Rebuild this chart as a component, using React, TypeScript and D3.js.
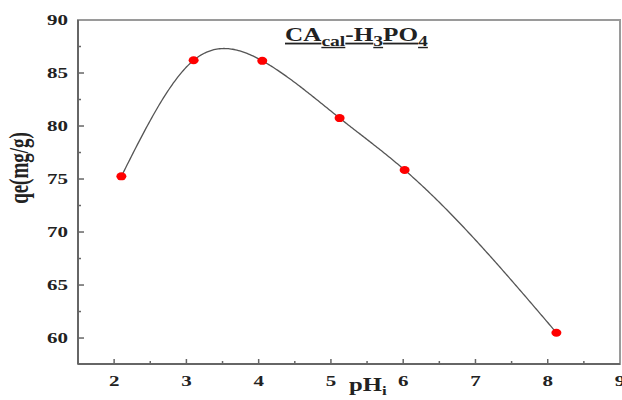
import React from 'react';
import * as d3 from 'd3';

const phValues = [2.1, 3.1, 4.05, 5.12, 6.02, 8.12];
const qeValues = [75.25, 86.2, 86.15, 80.75, 75.85, 60.5];
const xTicks = [2, 3, 4, 5, 6, 7, 8, 9];
const yTicks = [60, 65, 70, 75, 80, 85, 90];

// natural cubic spline y(x), like the smooth line the original plot drew
function splineFn(xs: number[], ys: number[]) {
  const n = xs.length;
  const h = d3.range(n - 1).map((i) => xs[i + 1] - xs[i]);
  const m = new Array(n).fill(0);
  const a: number[] = [], b: number[] = [], c: number[] = [], r: number[] = [];
  for (let i = 1; i < n - 1; i++) {
    a.push(h[i - 1]);
    b.push(2 * (h[i - 1] + h[i]));
    c.push(h[i]);
    r.push(6 * ((ys[i + 1] - ys[i]) / h[i] - (ys[i] - ys[i - 1]) / h[i - 1]));
  }
  const k = r.length;
  for (let i = 1; i < k; i++) {
    const w = a[i] / b[i - 1];
    b[i] -= w * c[i - 1];
    r[i] -= w * r[i - 1];
  }
  const sol = new Array(k).fill(0);
  for (let i = k - 1; i >= 0; i--) sol[i] = (r[i] - (i < k - 1 ? c[i] * sol[i + 1] : 0)) / b[i];
  for (let i = 0; i < k; i++) m[i + 1] = sol[i];
  return (t: number) => {
    let i = Math.min(n - 2, Math.max(0, d3.bisectRight(xs, t) - 1));
    const hi = h[i];
    const A = (xs[i + 1] - t) / hi, B = (t - xs[i]) / hi;
    return A * ys[i] + B * ys[i + 1] + ((A ** 3 - A) * m[i] + (B ** 3 - B) * m[i + 1]) * hi * hi / 6;
  };
}

const App = () => {
  const ref = React.useRef<SVGSVGElement>(null);

  React.useEffect(() => {
    const svg = d3.select(ref.current);
    svg.selectAll('*').remove();

    const margin = { top: 20, right: 2, bottom: 36, left: 78 };
    const W = 622, H = 400;
    const width = W - margin.left - margin.right;
    const height = H - margin.top - margin.bottom;
    const font = '"Liberation Serif", "Times New Roman", serif';
    const sx = 1.4; // the source image is stretched sideways

    const x = d3.scaleLinear().domain([1.5, 9]).range([0, width]);
    const y = d3.scaleLinear().domain([57.55, 90]).range([height, 0]);

    const g = svg.append('g').attr('transform', `translate(${margin.left},${margin.top})`);

    // frame
    g.append('rect')
      .attr('width', width).attr('height', height)
      .attr('fill', 'none').attr('stroke', '#9a9a9a').attr('stroke-width', 2);
    g.append('line').attr('x1', 0).attr('x2', 0).attr('y1', 0).attr('y2', height)
      .attr('stroke', '#666').attr('stroke-width', 2);
    g.append('line').attr('x1', 0).attr('x2', width).attr('y1', height).attr('y2', height)
      .attr('stroke', '#666').attr('stroke-width', 2);

    const xMinor = d3.range(1.5, 9, 0.5).filter((v) => !xTicks.includes(v));
    const yMinor = d3.range(57.5, 90, 2.5).filter((v) => !yTicks.includes(v) && v > 57.6);

    g.selectAll('.xt').data(xTicks.filter((v) => v < 9)).join('line')
      .attr('x1', (d) => x(d)).attr('x2', (d) => x(d))
      .attr('y1', height).attr('y2', height - 5)
      .attr('stroke', '#666').attr('stroke-width', 1.5);
    g.selectAll('.xm').data(xMinor).join('line')
      .attr('x1', (d) => x(d)).attr('x2', (d) => x(d))
      .attr('y1', height).attr('y2', height - 3)
      .attr('stroke', '#666').attr('stroke-width', 1.5);
    g.selectAll('.yt').data(yTicks.filter((v) => v < 90)).join('line')
      .attr('x1', 0).attr('x2', 6)
      .attr('y1', (d) => y(d)).attr('y2', (d) => y(d))
      .attr('stroke', '#666').attr('stroke-width', 1.5);
    g.selectAll('.ym').data(yMinor).join('line')
      .attr('x1', 0).attr('x2', 3)
      .attr('y1', (d) => y(d)).attr('y2', (d) => y(d))
      .attr('stroke', '#666').attr('stroke-width', 1.5);

    // tick labels
    g.selectAll('.xl').data(xTicks).join('text')
      .attr('transform', (d) => `translate(${x(d)},${height + 22}) scale(${sx},1)`)
      .attr('text-anchor', 'middle')
      .attr('font-family', font).attr('font-weight', 'bold').attr('font-size', 15)
      .attr('fill', '#222')
      .text((d) => d);
    g.selectAll('.yl').data(yTicks).join('text')
      .attr('transform', (d) => `translate(-10,${y(d) + 5}) scale(${sx},1)`)
      .attr('text-anchor', 'end')
      .attr('font-family', font).attr('font-weight', 'bold').attr('font-size', 15)
      .attr('fill', '#222')
      .text((d) => d);

    // curve
    const f = splineFn(phValues, qeValues);
    const xs = d3.range(phValues[0], phValues[phValues.length - 1], 0.02).concat(phValues[phValues.length - 1]);
    const line = d3.line<number>()
      .x((d) => x(d))
      .y((d) => y(f(d)));
    g.append('path')
      .attr('d', line(xs))
      .attr('fill', 'none').attr('stroke', '#555').attr('stroke-width', 1.3);

    g.selectAll('.pt').data(qeValues).join('ellipse')
      .attr('cx', (d, i) => x(phValues[i])).attr('cy', (d) => y(d))
      .attr('rx', 5).attr('ry', 4)
      .attr('fill', '#ff0000');

    // title
    const title = svg.append('text')
      .attr('transform', `translate(285,41) scale(${sx},1)`)
      .attr('font-family', font).attr('font-weight', 'bold').attr('font-size', 18)
      .attr('fill', '#222').attr('text-decoration', 'underline');
    title.append('tspan').text('CA');
    title.append('tspan').attr('dy', 5).attr('font-size', 14).text('cal');
    title.append('tspan').attr('dy', -5).text('-H');
    title.append('tspan').attr('dy', 5).attr('font-size', 14).text('3');
    title.append('tspan').attr('dy', -5).text('PO');
    title.append('tspan').attr('dy', 5).attr('font-size', 14).text('4');

    // axis labels
    const xl = svg.append('text')
      .attr('transform', `translate(349,391) scale(1.3,1)`)
      .attr('font-family', font).attr('font-weight', 'bold').attr('font-size', 19)
      .attr('fill', '#222');
    xl.append('tspan').text('pH');
    xl.append('tspan').attr('dy', 4).attr('font-size', 13).text('i');

    svg.append('text')
      .attr('transform', `translate(28,168) scale(${sx},1) rotate(-90)`)
      .attr('text-anchor', 'middle')
      .attr('font-family', font).attr('font-weight', 'bold').attr('font-size', 19)
      .attr('fill', '#222')
      .text('qe(mg/g)');
  }, []);

  return (
    <svg ref={ref} width={622} height={400}
      style={{ position: 'absolute', left: 0, top: 0, background: '#fff' }} />
  );
};

export default App;
